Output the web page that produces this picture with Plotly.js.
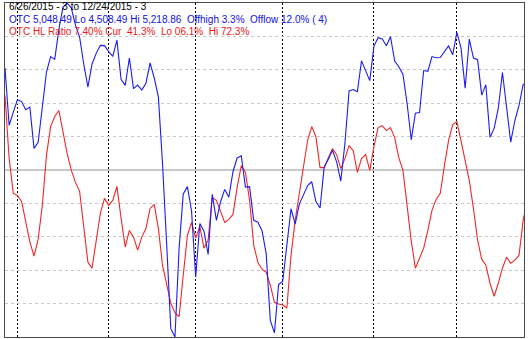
<!DOCTYPE html>
<html><head><meta charset="utf-8">
<script src="https://cdn.plot.ly/plotly-3.0.1.min.js"></script>
<style>html,body{margin:0;padding:0;background:#fff}#chart{width:528px;height:339px}</style>
</head><body><div id="chart"></div>
<script>
// trading-day index of the first session of each month (Jul..Dec 2015)
const monthStartIdx = [3, 25, 46, 67, 89, 109];
// Nasdaq (OTC) daily close 6/26/2015 .. 12/24/2015
const otcClose = [
 5080.51, 4958.47, 4986.87, 5013.12, 5009.21, 4991.94, 4997.46, 4909.76, 4922.40, 4997.70,
 5071.51, 5104.89, 5098.94, 5163.18, 5210.14, 5218.86, 5208.12, 5171.77, 5146.41, 5088.63,
 5039.78, 5089.21, 5111.73, 5128.79, 5128.28, 5115.38, 5105.55, 5139.94, 5056.44, 5043.54,
 5101.80, 5036.79, 5044.39, 5033.56, 5048.24, 5091.70, 5059.35, 5019.05, 4877.49, 4706.04,
 4526.25, 4508.49, 4697.54, 4812.71, 4828.33, 4776.51, 4636.10, 4749.98, 4733.50, 4683.92,
 4811.93, 4756.53, 4796.25, 4822.34, 4805.76, 4860.52, 4889.24, 4893.95, 4827.23, 4828.32,
 4756.72, 4752.74, 4734.48, 4686.50, 4543.97, 4517.32, 4620.16, 4627.08, 4707.78, 4781.26,
 4748.36, 4791.15, 4810.79, 4830.47, 4838.64, 4796.61, 4782.85, 4870.10, 4886.69, 4905.47,
 4880.97, 4840.12, 4920.05, 5031.86, 5034.70, 5030.15, 5095.69, 5074.27, 5053.75, 5127.15,
 5145.13, 5142.48, 5127.74, 5147.12, 5095.30, 5083.24, 5067.02, 5005.08, 4927.88, 4984.62,
 4986.02, 5075.20, 5073.64, 5104.92, 5102.48, 5102.81, 5116.14, 5127.52, 5108.67, 5156.31,
 5123.22, 5037.53, 5142.27, 5101.81, 5098.24, 5022.87, 5045.17, 4933.47, 4952.23, 4995.13,
 5071.13, 5002.55, 4923.08, 4968.92, 5001.11, 5045.93, 5048.49
];
// OTC HL ratio (%)
const hlRatio = [
 72.3, 53.4, 43.0, 42.4, 40.6, 34.1, 28.5, 24.2, 29.3, 39.4,
 54.3, 63.0, 66.0, 67.8, 60.9, 54.9, 49.9, 46.3, 43.6, 33.7,
 22.4, 20.6, 29.3, 37.0, 41.5, 39.4, 40.9, 45.1, 35.6, 26.9,
 31.9, 29.9, 26.0, 29.9, 32.5, 38.5, 39.7, 32.5, 21.5, 15.5,
 10.1, 7.2, 6.1, 18.5, 30.4, 34.3, 29.6, 33.1, 26.6, 29.0,
 41.8, 40.9, 37.6, 34.3, 35.2, 36.7, 44.8, 51.3, 49.3, 40.9,
 27.5, 22.4, 20.3, 19.4, 15.5, 10.4, 9.9, 9.6, 8.7, 24.5,
 35.0, 43.4, 52.0, 58.9, 63.0, 60.0, 50.7, 50.7, 53.7, 56.4,
 54.6, 50.4, 53.4, 57.3, 55.8, 49.3, 53.4, 54.6, 49.9, 57.0,
 62.7, 63.3, 61.8, 62.7, 59.7, 53.7, 49.9, 38.6, 28.7, 20.6,
 23.6, 26.6, 31.9, 37.9, 41.2, 43.0, 51.3, 58.8, 63.6, 64.5,
 58.8, 52.8, 46.9, 38.5, 29.0, 23.3, 21.5, 16.1, 12.2, 16.1,
 20.6, 23.9, 22.1, 23.0, 24.5, 34.9, 41.3
];
const otcLo = 4508.49, otcHi = 5218.86;
const gridPct = [10, 20, 30, 40, 60, 70, 80, 90];
const titleLine = "6/26/2015 - 3 to 12/24/2015 - 3";
const otcLine = "OTC 5,048.49 Lo 4,508.49 Hi 5,218.86&nbsp; Offhigh 3.3%&nbsp; Offlow 12.0% ( 4)";
const hlLine = "OTC HL Ratio 7.40% Cur&nbsp; 41.3%&nbsp; Lo 06.1%&nbsp; Hi 72.3%";

const idx = otcClose.map((_, i) => i);
const FONT = 'Liberation Sans, Arial, sans-serif';

const traces = [
  {x: idx, y: hlRatio, type: 'scatter', mode: 'lines', yaxis: 'y',
   line: {color: '#f02828', width: 1.1}, hoverinfo: 'skip'},
  {x: idx, y: otcClose, type: 'scatter', mode: 'lines', yaxis: 'y2',
   line: {color: '#1c1cf0', width: 1.1}, hoverinfo: 'skip'}
];

function py(p) { return (337 - p) / 334; }

const layout = {
  width: 528, height: 339,
  margin: {l: 5, r: 4, t: 3, b: 2, pad: 0},
  paper_bgcolor: '#ffffff', plot_bgcolor: '#ffffff',
  showlegend: false,
  xaxis: {range: [0, 125.2], tickvals: monthStartIdx, showticklabels: false, ticks: '',
          showgrid: true, gridcolor: '#000000', griddash: '2px,2px', gridwidth: 1,
          zeroline: false, showline: true, mirror: true, linecolor: '#4a4a4a', linewidth: 1},
  yaxis: {range: [0, 100], tickvals: gridPct, showticklabels: false, ticks: '',
          showgrid: true, gridcolor: '#c8c8c8', griddash: '3px,3px', gridwidth: 1,
          zeroline: false, showline: true, mirror: true, linecolor: '#4a4a4a', linewidth: 1},
  yaxis2: {overlaying: 'y', range: [otcLo, otcHi], visible: false},
  shapes: [
    {type: 'line', xref: 'paper', x0: 0, x1: 1, yref: 'y', y0: 50, y1: 50,
     line: {color: '#c8c8c8', width: 2}, layer: 'below'}
  ],
  annotations: [
    {xref: 'paper', yref: 'paper', x: 0.004, y: py(7), xanchor: 'left', yanchor: 'middle',
     text: titleLine, showarrow: false, font: {family: FONT, size: 10, color: '#000000'}},
    {xref: 'paper', yref: 'paper', x: 0.004, y: py(19.5), xanchor: 'left', yanchor: 'middle',
     text: otcLine, showarrow: false, font: {family: FONT, size: 10, color: '#1010e0'}},
    {xref: 'paper', yref: 'paper', x: 0.004, y: py(31), xanchor: 'left', yanchor: 'middle',
     text: hlLine, showarrow: false, font: {family: FONT, size: 10, color: '#e81818'}}
  ]
};

Plotly.newPlot('chart', traces, layout, {staticPlot: true, displayModeBar: false});
</script>
</body></html>
